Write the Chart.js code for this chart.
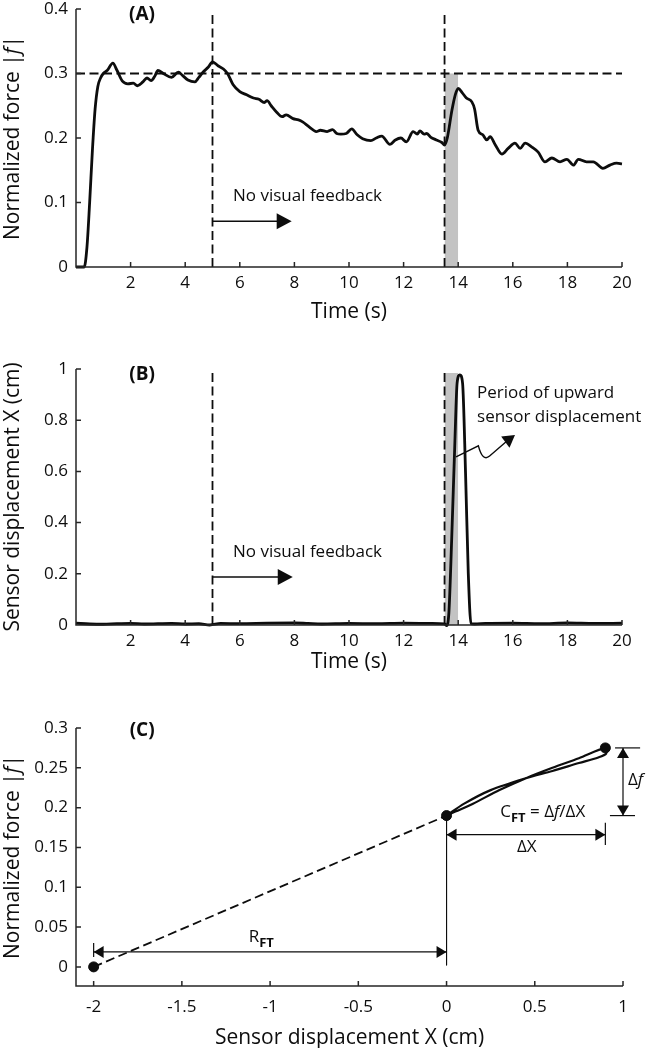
<!DOCTYPE html>
<html>
<head>
<meta charset="utf-8">
<script src="https://cdn.jsdelivr.net/npm/chart.js@4.4.1/dist/chart.umd.min.js"></script>
<style>
  html, body { margin: 0; padding: 0; background: #fff; }
  #wrap { position: relative; width: 649px; height: 1048px; overflow: hidden; }
  canvas { position: absolute; left: 0; }
</style>
</head>
<body>
<div id="wrap">
  <canvas id="chart-a" width="649" height="335" style="top:0px"></canvas>
  <canvas id="chart-b" width="649" height="340" style="top:340px"></canvas>
  <canvas id="chart-c" width="649" height="371" style="top:680px"></canvas>
</div>
<script>
// Panel A - normalized grip force over time
const forceTime = [0, 0.3, 0.4, 0.5, 0.6, 0.7, 0.8, 0.9, 1.0, 1.15, 1.35, 1.5, 1.7, 1.9, 2.1, 2.25, 2.45, 2.6, 2.75, 2.9,
  3.0, 3.2, 3.5, 3.75, 3.9, 4.1, 4.35, 4.5, 4.65, 4.85, 5.0, 5.2, 5.4, 5.55, 5.75, 6.0, 6.25, 6.5, 6.7, 6.9,
  7.0, 7.15, 7.35, 7.55, 7.7, 7.95, 8.15, 8.3, 8.55, 8.8, 8.95, 9.2, 9.4, 9.55, 9.7, 9.9, 10.1, 10.3, 10.5, 10.8,
  11.0, 11.2, 11.5, 11.7, 11.9, 12.1, 12.35, 12.5, 12.6, 12.75, 12.85, 13.0, 13.2, 13.4, 13.5, 13.6, 13.77, 13.9, 14.0, 14.15,
  14.3, 14.5, 14.6, 14.73, 14.9, 15.05, 15.17, 15.35, 15.6, 15.83, 16.08, 16.27, 16.45, 16.7, 16.93, 17.18, 17.43, 17.73, 17.98, 18.22,
  18.4, 18.7, 18.95, 19.3, 19.56, 19.8, 20.0];
const forceValue = [0, 0, 0.03, 0.10, 0.18, 0.245, 0.28, 0.293, 0.30, 0.305, 0.316, 0.305, 0.288, 0.284, 0.285, 0.281, 0.287, 0.293, 0.289, 0.297,
  0.305, 0.30, 0.294, 0.302, 0.297, 0.29, 0.287, 0.294, 0.302, 0.31, 0.318, 0.312, 0.307, 0.30, 0.283, 0.272, 0.267, 0.262, 0.26, 0.255,
  0.258, 0.25, 0.24, 0.233, 0.236, 0.23, 0.228, 0.225, 0.217, 0.21, 0.212, 0.21, 0.213, 0.207, 0.206, 0.207, 0.214, 0.205, 0.199, 0.196,
  0.20, 0.203, 0.19, 0.197, 0.20, 0.194, 0.21, 0.206, 0.211, 0.206, 0.207, 0.201, 0.197, 0.193, 0.189, 0.20, 0.243, 0.268, 0.277, 0.27,
  0.262, 0.256, 0.245, 0.212, 0.205, 0.197, 0.202, 0.19, 0.175, 0.184, 0.192, 0.184, 0.192, 0.186, 0.178, 0.163, 0.169, 0.163, 0.167, 0.158,
  0.167, 0.163, 0.163, 0.153, 0.158, 0.161, 0.16];

// Panel B - sensor displacement over time
const dispTime = [0, 0.5, 1, 1.5, 2, 2.5, 3, 3.5, 4, 4.5, 4.9, 5.3, 6, 7, 8, 8.5, 9, 10, 11, 12, 13, 13.5,
  13.58, 13.66, 13.76, 13.88, 13.96, 14.06, 14.16, 14.27, 14.37, 14.47, 14.6, 15, 16, 17, 18, 19, 20];
const dispValue = [0.007, 0.004, 0.003, 0.005, 0.006, 0.004, 0.005, 0.006, 0.004, 0.005, 0.0, 0.006, 0.005, 0.007, 0.008, 0.006, 0.004, 0.006, 0.005, 0.007, 0.006, 0.004,
  -0.002, 0.05, 0.33, 0.72, 0.945, 0.977, 0.945, 0.59, 0.2, 0.005, 0.004, 0.006, 0.007, 0.005, 0.008, 0.006, 0.007];

// Panel C - force vs displacement loop during the lift
const loopDisp = [0, 0.1, 0.25, 0.45, 0.6, 0.75, 0.86, 0.905, 0.9, 0.75, 0.6, 0.45, 0.3, 0.15, 0.05, 0];
const loopForce = [0.19, 0.205, 0.222, 0.237, 0.246, 0.256, 0.263, 0.268, 0.275, 0.262, 0.25, 0.237, 0.222, 0.205, 0.195, 0.19];
const keyDisp = [-2, 0, 0.9];
const keyForce = [0, 0.19, 0.275];

const cueTimes = [5, 13.5];
const targetForce = 0.3;
const liftWindow = [13.5, 14.0];

const timeTicks = [2, 4, 6, 8, 10, 12, 14, 16, 18, 20];
const forceTicksA = [0, 0.1, 0.2, 0.3, 0.4];
const dispTicksB = [0, 0.2, 0.4, 0.6, 0.8, 1];
const dispTicksC = [-2, -1.5, -1, -0.5, 0, 0.5, 1];
const forceTicksC = [0, 0.05, 0.1, 0.15, 0.2, 0.25, 0.3];

const INK = '#0d0d0d';
const AXIS = '#262626';
const SHADE = '#c3c3c3';
const FAMILY = '"Open Sans", "DejaVu Sans", sans-serif';
const TXT = '17px ' + FAMILY;
const BOLD = 'bold 19px ' + FAMILY;
const TITLE = '21px ' + FAMILY;
const TITLE_IT = 'italic 21px ' + FAMILY;
const SUB = 'bold 13px ' + FAMILY;
const ITAL = 'italic 17px ' + FAMILY;

Chart.defaults.font.family = FAMILY;
Chart.defaults.font.size = 17;
Chart.defaults.color = INK;
Chart.defaults.animation = false;
Chart.defaults.elements.point.radius = 0;
Chart.defaults.plugins.legend.display = false;
Chart.defaults.plugins.tooltip.enabled = false;
Chart.defaults.events = [];

const pts = (xs, ys) => xs.map((x, i) => ({x: x, y: ys[i]}));
const dashed = {borderColor: INK, borderWidth: 1.8, borderDash: [9, 4.5], fill: false};

function makeScale(min, max, ticks, size, pad, title) {
    return {
        type: 'linear',
        min: min,
        max: max,
        afterBuildTicks: s => { s.ticks = ticks.map(v => ({value: v})); },
        afterFit: s => {
            if (s.isHorizontal()) s.height = size; else s.width = size;
            // keep the plot box exactly where the layout padding puts it
            s.paddingTop = s.paddingBottom = s.paddingLeft = s.paddingRight = 0;
        },
        grid: {display: false, drawTicks: false},
        border: {display: false},
        ticks: {
            padding: pad,
            color: INK,
            maxRotation: 0,
            autoSkip: false,
            callback: v => String(Math.round(v * 1000) / 1000)
        },
        title: title || {display: false}
    };
}

function at(chart, x, y) {
    return [chart.scales.x.getPixelForValue(x), chart.scales.y.getPixelForValue(y)];
}

function richText(ctx, parts, x, y, align) {
    let w = 0;
    parts.forEach(p => { ctx.font = p[1]; w += ctx.measureText(p[0]).width; });
    let cx = align === 'center' ? x - w / 2 : (align === 'right' ? x - w : x);
    ctx.textAlign = 'left';
    ctx.textBaseline = 'middle';
    parts.forEach(p => {
        ctx.font = p[1];
        ctx.fillText(p[0], cx, y + (p[2] || 0));
        cx += ctx.measureText(p[0]).width;
    });
}

function label(ctx, text, p, font, align) {
    richText(ctx, [[text, font]], p[0], p[1], align);
}

function head(ctx, tip, ang, len, half) {
    const c = Math.cos(ang), s = Math.sin(ang);
    ctx.beginPath();
    ctx.moveTo(tip[0], tip[1]);
    ctx.lineTo(tip[0] - len * c + half * s, tip[1] - len * s - half * c);
    ctx.lineTo(tip[0] - len * c - half * s, tip[1] - len * s + half * c);
    ctx.closePath();
    ctx.fill();
}

function line(ctx, a, b, lw) {
    ctx.lineWidth = lw;
    ctx.beginPath();
    ctx.moveTo(a[0], a[1]);
    ctx.lineTo(b[0], b[1]);
    ctx.stroke();
}

function arrow(ctx, a, b, lw, len, half) {
    const ang = Math.atan2(b[1] - a[1], b[0] - a[0]);
    line(ctx, a, [b[0] - len * 0.8 * Math.cos(ang), b[1] - len * 0.8 * Math.sin(ang)], lw);
    head(ctx, b, ang, len, half);
}

function dimension(ctx, a, b, lw, len, half) {
    const ang = Math.atan2(b[1] - a[1], b[0] - a[0]);
    line(ctx, a, b, lw);
    head(ctx, b, ang, len, half);
    head(ctx, a, ang + Math.PI, len, half);
}

function yTitle(chart, parts) {
    const ctx = chart.ctx;
    const a = chart.chartArea;
    ctx.save();
    ctx.fillStyle = INK;
    ctx.translate(12.6, (a.top + a.bottom) / 2);
    ctx.rotate(-Math.PI / 2);
    richText(ctx, parts, 0, 0, 'center');
    ctx.restore();
}

function axesPlugin(xTicks, yTicks) {
    return {
        id: 'matlabAxes',
        afterDatasetsDraw(chart) {
            const {ctx, chartArea: a, scales: {x, y}} = chart;
            ctx.save();
            ctx.strokeStyle = AXIS;
            ctx.lineWidth = 1.5;
            ctx.beginPath();
            ctx.moveTo(a.left, a.top);
            ctx.lineTo(a.left, a.bottom);
            ctx.lineTo(a.right, a.bottom);
            xTicks.forEach(v => {
                const p = x.getPixelForValue(v);
                ctx.moveTo(p, a.bottom);
                ctx.lineTo(p, a.bottom - 5);
            });
            yTicks.forEach(v => {
                const p = y.getPixelForValue(v);
                ctx.moveTo(a.left, p);
                ctx.lineTo(a.left + 5, p);
            });
            ctx.stroke();
            ctx.restore();
        }
    };
}

const forceTitle = [['Normalized force |', TITLE], ['f', TITLE_IT], ['|', TITLE]];

// ---- Panel A ----
new Chart(document.getElementById('chart-a'), {
    type: 'line',
    data: {
        datasets: [
            {data: pts(forceTime, forceValue), borderColor: INK, borderWidth: 2.8, cubicInterpolationMode: 'monotone', clip: false},
            ...cueTimes.map(t => Object.assign({data: pts([t, t], [0, 0.396])}, dashed)),
            Object.assign({data: pts([0, 20], [targetForce, targetForce])}, dashed),
            {data: pts(liftWindow, [targetForce, targetForce]), fill: 'origin', backgroundColor: SHADE, borderWidth: 0}
        ]
    },
    options: {
        responsive: false,
        layout: {padding: {left: 0, right: 27, top: 9, bottom: 0}},
        scales: {
            x: makeScale(0, 20, timeTicks, 68, 6, {display: true, text: 'Time (s)', color: INK, font: {size: 21}, padding: {bottom: 10}}),
            y: makeScale(0, 0.4, forceTicksA, 76, 8)
        }
    },
    plugins: [axesPlugin(timeTicks, forceTicksA), {
        id: 'notesA',
        afterDraw(chart) {
            const ctx = chart.ctx;
            ctx.save();
            ctx.fillStyle = INK;
            ctx.strokeStyle = INK;
            label(ctx, '(A)', at(chart, 2.42, 0.392), BOLD, 'center');
            label(ctx, 'No visual feedback', at(chart, 5.75, 0.11), TXT, 'left');
            arrow(ctx, at(chart, 5, 0.071), at(chart, 7.9, 0.071), 1.6, 15, 8);
            ctx.restore();
            yTitle(chart, forceTitle);
        }
    }]
});

// ---- Panel B ----
new Chart(document.getElementById('chart-b'), {
    type: 'line',
    data: {
        datasets: [
            {data: pts(dispTime, dispValue), borderColor: INK, borderWidth: 2.8, cubicInterpolationMode: 'monotone', clip: false},
            Object.assign({data: pts([cueTimes[0], cueTimes[0]], [0, 0.996])}, dashed),
            Object.assign({data: pts([cueTimes[1], cueTimes[1]], [0, 0.99])}, dashed),
            {data: pts(liftWindow, [0.984, 0.984]), fill: 'origin', backgroundColor: SHADE, borderWidth: 0}
        ]
    },
    options: {
        responsive: false,
        layout: {padding: {left: 0, right: 27, top: 29, bottom: 0}},
        scales: {
            x: makeScale(0, 20, timeTicks, 55, 6, {display: true, text: 'Time (s)', color: INK, font: {size: 21}, padding: {bottom: 5}}),
            y: makeScale(0, 1, dispTicksB, 76, 8, {display: true, text: 'Sensor displacement X (cm)', color: INK, font: {size: 21}, padding: {top: 0}})
        }
    },
    plugins: [axesPlugin(timeTicks, dispTicksB), {
        id: 'notesB',
        afterDraw(chart) {
            const ctx = chart.ctx;
            ctx.save();
            ctx.fillStyle = INK;
            ctx.strokeStyle = INK;
            label(ctx, '(B)', at(chart, 2.42, 0.98), BOLD, 'center');
            label(ctx, 'No visual feedback', at(chart, 5.75, 0.285), TXT, 'left');
            arrow(ctx, at(chart, 5, 0.1875), at(chart, 7.94, 0.1875), 1.6, 15, 8);
            label(ctx, 'Period of upward', at(chart, 14.69, 0.906), TXT, 'left');
            label(ctx, 'sensor displacement', at(chart, 14.69, 0.8125), TXT, 'left');
            const z = [[13.92, 0.657], [14.74, 0.70], [15.04, 0.66], [16.08, 0.742]].map(p => at(chart, p[0], p[1]));
            ctx.lineWidth = 1.4;
            ctx.beginPath();
            ctx.moveTo(z[0][0], z[0][1]);
            ctx.lineTo(z[1][0], z[1][1]);
            ctx.quadraticCurveTo(z[2][0] - 4, z[2][1] + 6, z[2][0] + 3, z[2][1]);
            ctx.lineTo(z[3][0] - 8, z[3][1] + 6);
            ctx.stroke();
            head(ctx, z[3], Math.atan2(z[3][1] - z[2][1], z[3][0] - z[2][0]), 12, 7);
            ctx.restore();
        }
    }]
});

// ---- Panel C ----
new Chart(document.getElementById('chart-c'), {
    type: 'line',
    data: {
        datasets: [
            {data: pts(keyDisp, keyForce), showLine: false, pointRadius: 5, pointBackgroundColor: INK, pointBorderColor: INK, clip: false},
            {data: pts(loopDisp, loopForce), borderColor: INK, borderWidth: 2.2, tension: 0.3, clip: false},
            Object.assign({data: pts(keyDisp.slice(0, 2), keyForce.slice(0, 2))}, dashed),
            {data: pts([0, 0], [keyForce[1], 0.002]), borderColor: INK, borderWidth: 1}
        ]
    },
    options: {
        responsive: false,
        layout: {padding: {left: 0, right: 26, top: 48, bottom: 0}},
        scales: {
            x: makeScale(-2.1, 1, dispTicksC, 65, 11, {display: true, text: 'Sensor displacement X (cm)', color: INK, font: {size: 21}, padding: {bottom: 0}}),
            y: makeScale(-0.024, 0.3, forceTicksC, 76, 8)
        }
    },
    plugins: [axesPlugin(dispTicksC, forceTicksC), {
        id: 'notesC',
        afterDraw(chart) {
            const ctx = chart.ctx;
            ctx.save();
            ctx.fillStyle = INK;
            ctx.strokeStyle = INK;
            label(ctx, '(C)', at(chart, -1.725, 0.297), BOLD, 'center');
            // R_FT span
            line(ctx, at(chart, -2, 0.030), at(chart, -2, 0.0125), 1.2);
            dimension(ctx, at(chart, -2, 0.0188), at(chart, 0, 0.0188), 1.2, 10, 6);
            const r = at(chart, -1.05, 0.0376);
            richText(ctx, [['R', TXT], ['FT', SUB, 6]], r[0], r[1], 'center');
            // delta X span
            line(ctx, at(chart, 0.9, 0.181), at(chart, 0.9, 0.153), 1.2);
            dimension(ctx, at(chart, 0, 0.166), at(chart, 0.9, 0.166), 1.2, 10, 6);
            label(ctx, '\u0394X', at(chart, 0.455, 0.1506), TXT, 'center');
            const c = at(chart, 0.545, 0.194);
            richText(ctx, [['C', TXT], ['FT', SUB, 6], [' = \u0394', TXT], ['f', ITAL], ['/\u0394X', TXT]], c[0], c[1], 'center');
            // delta f span
            line(ctx, at(chart, 0.955, 0.275), at(chart, 1.097, 0.275), 1.2);
            line(ctx, at(chart, 0.926, 0.19), at(chart, 1.068, 0.19), 1.2);
            dimension(ctx, at(chart, 1.0, 0.19), at(chart, 1.0, 0.275), 1.2, 10, 6);
            const d = at(chart, 1.028, 0.235);
            richText(ctx, [['\u0394', TXT], ['f', ITAL]], d[0], d[1], 'left');
            ctx.restore();
            yTitle(chart, forceTitle);
        }
    }]
});
</script>
</body>
</html>
